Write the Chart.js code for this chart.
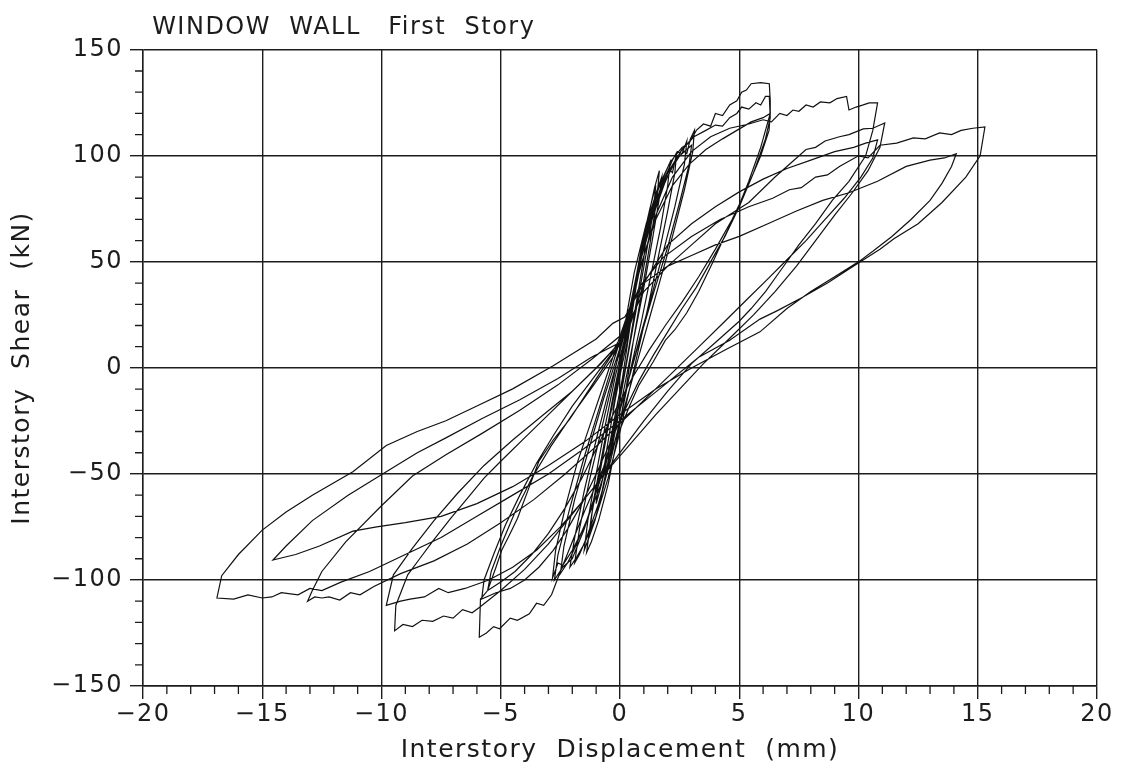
<!DOCTYPE html>
<html lang="en">
<head>
<meta charset="UTF-8">
<title>Window Wall - First Story</title>
<script src="https://cdn.jsdelivr.net/npm/chart.js"></script>
<style>
  body { margin: 0; background: #fff; }
  #chart { display: block; }
</style>
</head>
<body>
<canvas id="chart" width="1125" height="769"></canvas>
<script>
// hysteresis cycles: [displacement mm, shear kN]
const cycle0 = [[0,0],[0.15,10],[0.3,20],[0.2,12],[0,-2],[-0.2,-14],[-0.3,-20],[-0.15,-10],[0,0]];
const cycle1 = [[0.3,15],[0.6,35],[0.8,48],[0.7,40],[0.4,18],[0.1,-5],[-0.2,-22],[-0.5,-40],[-0.7,-50],[-0.55,-38],[-0.2,-15],[0.1,2],[0.3,12]];
const cycle1b = [[0.5,30],[0.9,52],[1.1,62],[1.0,52],[0.7,32],[0.35,8],[0,-14],[-0.4,-36],[-0.8,-56],[-1.0,-64],[-0.85,-50],[-0.5,-28],[-0.1,-4],[0.2,12]];
const cycle2 = [[0.6,35],[0.9,55],[1.2,72],[1.45,85],[1.65,93],[1.55,80],[1.25,58],[0.9,35],[0.55,12],[0.25,-10],[-0.1,-32],[-0.5,-55],[-0.9,-72],[-1.2,-82],[-1.4,-87],[-1.2,-70],[-0.8,-45],[-0.4,-20],[0,2],[0.3,18]];
const cycle2b = [[0.6,38],[0.95,60],[1.25,75],[1.5,86],[1.4,74],[1.1,54],[0.75,32],[0.4,10],[0.05,-12],[-0.35,-36],[-0.75,-58],[-1.05,-72],[-1.3,-80],[-1.1,-62],[-0.7,-38],[-0.3,-14],[0.1,8],[0.4,25]];
const cycle2c = [[0.85,52],[1.2,70],[1.5,82],[1.75,90],[1.65,80],[1.35,60],[1.0,38],[0.6,15],[0.2,-8],[-0.2,-30],[-0.6,-52],[-1.0,-70],[-1.3,-80],[-1.5,-86],[-1.35,-72],[-1.0,-50],[-0.6,-26],[-0.2,-4],[0.2,14]];
const cycle3 = [[0.7,42],[1.1,62],[1.5,78],[1.8,88],[2.05,94],[2.2,92],[2.37,101],[2.3,92],[2.0,74],[1.6,52],[1.2,30],[0.8,10],[0.4,-10],[0,-30],[-0.5,-52],[-1.0,-70],[-1.5,-83],[-1.8,-89],[-2.1,-94],[-1.9,-80],[-1.5,-58],[-1.0,-34],[-0.5,-12],[0,8],[0.4,25]];
const cycle3b = [[0.8,48],[1.2,68],[1.6,84],[1.9,92],[2.1,97],[2.0,86],[1.7,66],[1.3,44],[0.9,22],[0.5,2],[0.1,-20],[-0.4,-44],[-0.9,-64],[-1.4,-80],[-1.7,-88],[-1.9,-92],[-1.7,-76],[-1.3,-54],[-0.8,-30],[-0.3,-6],[0.1,15],[0.5,32]];
const cycle4 = [[0.9,52],[1.4,72],[1.9,88],[2.3,97],[2.6,103],[2.8,101],[2.95,108],[3.12,112],[3.05,102],[2.7,84],[2.2,62],[1.7,42],[1.2,22],[0.7,2],[0.2,-18],[-0.3,-38],[-0.9,-58],[-1.5,-75],[-2.0,-86],[-2.4,-93],[-2.6,-92],[-2.83,-99],[-2.7,-86],[-2.3,-66],[-1.8,-45],[-1.2,-25],[-0.6,-5],[0,15],[0.4,28]];
const cycle4b = [[1.0,58],[1.5,78],[1.9,90],[2.2,98],[2.4,102],[2.6,101],[2.8,107],[2.7,96],[2.3,76],[1.8,54],[1.3,33],[0.8,13],[0.3,-8],[-0.2,-28],[-0.8,-52],[-1.4,-72],[-1.9,-85],[-2.2,-92],[-2.5,-97],[-2.35,-84],[-1.9,-62],[-1.3,-38],[-0.7,-15],[-0.1,6],[0.3,20]];
const cycle5 = [[1.0,58],[1.6,80],[2.1,93],[2.5,100],[2.8,103],[3.0,105],[2.9,96],[2.5,78],[2.0,57],[1.4,35],[0.8,12],[0.3,-8],[-0.3,-32],[-0.9,-55],[-1.5,-76],[-2.0,-90],[-2.4,-94],[-2.75,-100],[-2.6,-88],[-2.1,-66],[-1.5,-42],[-0.9,-20],[-0.3,2],[0.2,20]];
const cycle6 = [[0.6,45],[1.1,68],[1.6,85],[2.1,97],[2.6,104],[2.9,106],[3.2,112],[3.5,115],[3.8,114],[4.0,120],[4.3,119],[4.6,124],[4.9,126],[5.1,130],[5.3,131],[5.5,134],[5.9,134.5],[6.26,134],[6.3,126],[6.3,120],[5.9,104],[5.4,88],[4.9,74],[4.3,60],[3.9,50],[3.3,36],[2.8,26],[2.3,18],[1.9,13],[1.4,3],[0.8,-8],[0.4,-18],[0,-29],[-0.5,-42],[-1.0,-55],[-1.5,-68],[-2.0,-82],[-2.5,-96],[-2.87,-107],[-3.2,-112],[-3.5,-111],[-3.8,-116],[-4.3,-119],[-4.6,-118],[-5.05,-123],[-5.3,-122],[-5.6,-125],[-5.9,-127],[-5.85,-109],[-5.55,-105],[-5.2,-94],[-4.96,-86],[-4.6,-78],[-4.3,-71],[-3.8,-56],[-3.4,-44],[-2.8,-34],[-2.1,-24],[-1.4,-12],[-0.7,0],[0,12],[0.3,22]];
const cycle7 = [[0.8,50],[1.4,75],[2.0,92],[2.6,103],[3.1,109],[3.6,112],[4.0,114.5],[4.3,114],[4.6,118],[4.9,120],[5.1,123],[5.4,122],[5.7,125],[5.9,124],[6.1,128],[6.26,128],[6.3,118],[6.1,108],[5.6,92],[5.0,76],[4.4,62],[3.8,50],[3.2,38],[2.6,28],[2.0,17],[1.4,6],[0.8,-6],[0.2,-20],[-0.4,-35],[-1.0,-50],[-1.6,-64],[-2.2,-76],[-2.8,-86],[-3.4,-94],[-4.0,-100],[-4.6,-104],[-5.2,-106],[-5.8,-109],[-5.7,-100],[-5.3,-88],[-4.8,-74],[-4.2,-60],[-3.5,-45],[-2.8,-32],[-2.0,-18],[-1.2,-6],[-0.4,6],[0.2,18]];
const cycle8 = [[0.8,46],[1.5,70],[2.2,86],[2.9,96],[3.6,103],[4.3,108],[4.9,112],[5.5,116],[6.0,118],[6.3,120],[6.25,112],[5.9,100],[5.3,84],[4.7,70],[4.0,56],[3.3,43],[2.6,31],[1.9,20],[1.2,8],[0.5,-5],[-0.2,-20],[-0.9,-36],[-1.6,-52],[-2.3,-66],[-3.0,-78],[-3.7,-88],[-4.4,-96],[-5.0,-101],[-5.55,-105],[-5.4,-96],[-5.0,-84],[-4.4,-68],[-3.7,-52],[-2.9,-37],[-2.0,-22],[-1.1,-8],[-0.3,5],[0.3,18]];
const cycle9 = [[0.8,45],[1.5,72],[2.2,90],[3.0,102],[3.8,109],[4.6,113],[5.4,115],[6.0,117],[6.35,116],[6.7,120],[7.0,119],[7.25,121.6],[7.5,121],[7.8,124],[8.1,123],[8.4,125.4],[8.8,125],[9.1,127],[9.5,128],[9.6,121.6],[9.9,123],[10.2,124],[10.45,125],[10.8,125],[10.6,112],[10.3,100],[9.6,88],[8.9,79],[8.2,68],[7.5,58],[6.8,47],[6.1,36],[5.5,28],[5,22],[4,12],[3,2],[2,-11],[1,-25],[0,-40],[-1,-55],[-2,-69],[-3,-83],[-4,-95],[-5,-105],[-5.9,-113],[-6.2,-115.5],[-6.6,-114],[-7,-118],[-7.4,-117],[-7.85,-119.5],[-8.3,-119],[-8.7,-122],[-9.1,-121],[-9.45,-124],[-9.4,-112],[-8.9,-97.6],[-8.4,-90],[-7.85,-81.7],[-7.1,-71],[-6.4,-61.5],[-5.7,-52],[-5,-44],[-4,-33],[-3,-22],[-2,-11],[-1,0],[0,12],[0.4,22]];
const cycle10 = [[1.0,36],[2,48],[3,58],[4,68],[5.4,78],[6.5,90],[7.2,97],[7.8,103],[8.2,104],[8.6,107],[9.2,109],[9.6,110],[10.2,112.7],[10.6,113],[11.1,115.5],[10.9,104],[10.4,93],[9.7,82],[9,72],[8.2,60],[7.4,48],[6.5,36],[5.6,25],[4.6,14],[3.5,2],[2.5,-10],[1.5,-22],[0.5,-35],[-0.5,-48],[-1.5,-62],[-2.5,-75],[-3.5,-86],[-4.5,-94],[-5.5,-100],[-6.5,-104],[-7.2,-106],[-7.6,-104],[-8.2,-108],[-8.8,-109],[-9.2,-110],[-9.8,-112],[-9.5,-97.6],[-8.7,-85],[-7.8,-72],[-6.8,-59],[-5.7,-46],[-4.5,-34],[-3.2,-22],[-2,-11],[-0.8,2],[0.3,16]];
const cycle11 = [[1.0,40],[2.0,58],[3.0,68],[4.0,76],[5.0,83],[6.0,89],[7.0,94],[8.0,98],[9.0,102],[9.8,104],[10.3,106],[10.8,107.5],[10.6,99],[10.1,90],[9.4,80],[8.6,70],[7.8,60],[7.0,51],[6.2,42],[5.3,32],[4.4,22],[3.4,11],[2.4,0],[1.3,-12],[0.2,-24],[-1.0,-37],[-2.3,-50],[-3.6,-62],[-5,-73],[-6.4,-83],[-7.8,-91],[-9.2,-97],[-10.3,-103],[-10.9,-107],[-11.3,-106],[-11.75,-109.5],[-12.2,-108],[-12.5,-108.5],[-12.8,-108],[-13.1,-110],[-12.9,-105],[-12.5,-96],[-11.5,-82],[-10,-65],[-8.7,-51],[-7.3,-41],[-5.8,-31],[-4.2,-20],[-2.6,-8],[-1.2,4],[0,15]];
const cycle12 = [[0.8,38],[1.8,52],[3,62],[4.2,70],[5.4,76],[6.4,80],[7.1,84],[7.6,85],[8.2,90],[8.7,91],[9.2,95],[10,100],[10.4,99],[10.9,105],[11.6,106],[12.3,108.5],[12.8,108],[13.4,110.8],[13.9,110],[14.3,112],[14.8,113],[15.3,113.6],[15.1,100],[14.5,90],[13.5,78],[12.5,68],[11.5,61],[10.9,56],[9.8,48],[8.7,40],[7.6,33],[6.6,27],[5.87,23],[4.6,13],[3.3,5],[1.65,-10],[0.1,-24],[-1.5,-38],[-3,-50],[-4.5,-60],[-6,-70],[-7.5,-80],[-9,-88],[-10.5,-96],[-11.7,-101],[-12.5,-105],[-13,-104],[-13.5,-107],[-14.2,-106],[-14.6,-108],[-15,-108.5],[-15.6,-107],[-16.2,-109],[-16.9,-108.5],[-16.7,-98],[-16,-88],[-15,-76.5],[-14,-68],[-12.9,-60],[-11.2,-49],[-9.8,-36.6],[-8.5,-30],[-7.3,-24.9],[-6,-18],[-4.5,-9.9],[-2.8,1],[-1,13.6],[-0.3,21],[0.2,24]];
const cycle13 = [[1,40],[2,48],[3,53],[4,58],[5,62],[6.2,68],[7.4,74],[8.5,79],[9.6,82.6],[10.8,88],[12,95],[13,98],[13.6,99],[14.1,101],[13.9,95],[13.5,87],[13,79],[12.2,70],[11.4,62],[10.6,55],[10,50],[9,43],[8,36],[7,28],[5.87,17],[4.5,9],[3,0],[1.5,-10],[0,-22],[-1.5,-35],[-3,-46],[-4.5,-56],[-6,-64],[-7.5,-70],[-9,-73],[-10.2,-75],[-11.2,-77],[-12.6,-84],[-13.6,-88],[-14.55,-90.6],[-14,-84],[-12.9,-72],[-11.4,-60],[-9.8,-49],[-8.5,-40],[-7.3,-33],[-5.8,-24],[-4.2,-15],[-2.6,-5],[-1.2,5],[0,12]];

const cycles = [cycle0, cycle1, cycle1b, cycle2, cycle2b, cycle2c, cycle3, cycle3b, cycle4, cycle4b, cycle5,
  cycle6, cycle7, cycle8, cycle9, cycle10, cycle11, cycle12, cycle13];

const minorX = [-19,-18,-17,-16,-14,-13,-12,-11,-9,-8,-7,-6,-4,-3,-2,-1,1,2,3,4,6,7,8,9,11,12,13,14,16,17,18,19];
const minorY = [-140,-130,-120,-110,-90,-80,-70,-60,-40,-30,-20,-10,10,20,30,40,60,70,80,90,110,120,130,140];

const points = [];
cycles.forEach(c => c.forEach(p => points.push({ x: p[0], y: p[1] })));

const ink = '#1c1c1c';

// wide hand-lettered look
const spacing = {
  id: 'spacing',
  beforeUpdate(chart) { chart.ctx.letterSpacing = '1.5px'; },
  beforeDraw(chart) { chart.ctx.letterSpacing = '1.5px'; }
};

// small ticks between the numbered ones
const minorTicks = {
  id: 'minorTicks',
  afterDraw(chart) {
    const { ctx, scales: { x, y } } = chart;
    ctx.save();
    ctx.strokeStyle = ink;
    ctx.lineWidth = 1.3;
    ctx.beginPath();
    minorX.forEach(v => {
      const px = x.getPixelForValue(v);
      ctx.moveTo(px, y.bottom);
      ctx.lineTo(px, y.bottom + 8);
    });
    minorY.forEach(v => {
      const py = y.getPixelForValue(v);
      ctx.moveTo(x.left - 8, py);
      ctx.lineTo(x.left, py);
    });
    ctx.stroke();
    ctx.restore();
  }
};

Chart.defaults.font.family = "'DejaVu Sans', sans-serif";
Chart.defaults.color = ink;

new Chart(document.getElementById('chart'), {
  type: 'scatter',
  data: {
    datasets: [{
      data: points,
      showLine: true,
      borderColor: '#111',
      borderWidth: 1.2,
      pointRadius: 0,
      tension: 0,
      fill: false
    }]
  },
  options: {
    responsive: false,
    animation: false,
    layout: { padding: { left: 0, right: 28, top: 0, bottom: 0 } },
    plugins: {
      legend: { display: false },
      tooltip: { enabled: false },
      title: {
        display: true,
        text: ' WINDOW  WALL   First  Story',
        align: 'start',
        fullSize: false,
        color: ink,
        font: { size: 24, weight: 'normal' },
        padding: { top: 13, bottom: 8 }
      }
    },
    scales: {
      x: {
        type: 'linear',
        min: -20,
        max: 20,
        ticks: { stepSize: 5, padding: 1, font: { size: 24 }, color: ink,
          callback: v => v < 0 ? '\u2212' + Math.abs(v) : v },
        grid: { color: ink, lineWidth: 1.4, tickLength: 13, tickColor: ink },
        border: { color: ink, width: 1.4 },
        title: { display: true, text: 'Interstory  Displacement  (mm)', color: ink,
          font: { size: 25 }, padding: { top: 0, bottom: 4 } },
        afterFit: s => { s.height = 83; }
      },
      y: {
        type: 'linear',
        min: -150,
        max: 150,
        ticks: { stepSize: 50, padding: 7, font: { size: 24 }, color: ink,
          callback: v => v < 0 ? '\u2212' + Math.abs(v) : v },
        grid: { color: ink, lineWidth: 1.4, tickLength: 13, tickColor: ink },
        border: { color: ink, width: 1.4 },
        title: { display: true, text: 'Interstory  Shear  (kN)', color: ink,
          font: { size: 25 }, padding: { top: 7, bottom: 0 } },
        afterFit: s => { s.width = 143; }
      }
    }
  },
  plugins: [spacing, minorTicks]
});
</script>
</body>
</html>
